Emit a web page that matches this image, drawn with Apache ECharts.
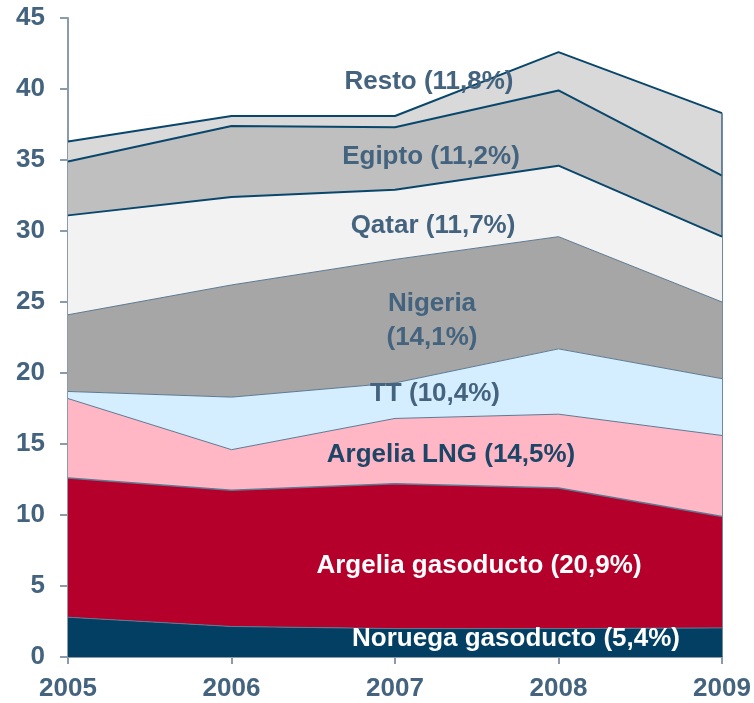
<!DOCTYPE html>
<html>
<head>
<meta charset="utf-8">
<script src="https://cdn.jsdelivr.net/npm/echarts@6/dist/echarts.min.js"></script>
<style>
html, body { margin: 0; padding: 0; background: #fff; }
#chart { width: 754px; height: 703px; }
</style>
</head>
<body>
<div id="chart"></div>
<script>
// años
var years = ['2005', '2006', '2007', '2008', '2009'];
var yTicks = { min: 0, max: 45, step: 5 };

// bcm por origen (apiladas de abajo a arriba)
var noruega    = [2.8, 2.15, 2.0, 2.0, 2.05];
var argeliaGas = [9.8, 9.6, 10.2, 9.9, 7.85];
var argeliaLng = [5.6, 2.85, 4.6, 5.2, 5.7];
var tt         = [0.5, 3.7, 2.5, 4.6, 4.0];
var nigeria    = [5.4, 7.9, 8.7, 7.9, 5.4];
var qatar      = [7.0, 6.2, 4.9, 5.0, 4.6];
var egipto     = [3.8, 5.0, 4.4, 5.3, 4.3];
var resto      = [1.4, 0.7, 0.8, 2.7, 4.4];

var textColor = '#44637e';
var navy = '#08466b';
var thinLine = '#5d7a92';
var FONT = 'Liberation Sans, Arial, sans-serif';

// total del último año, para cerrar el borde derecho
var all = [noruega, argeliaGas, argeliaLng, tt, nigeria, qatar, egipto, resto];
var last = years.length - 1;
var lastTotal = all.reduce(function (s, arr) { return s + arr[last]; }, 0);

function area(name, data, fill, lineColor, lineWidth, z) {
  return {
    name: name,
    type: 'line',
    stack: 'total',
    data: data,
    symbol: 'none',
    z: z,
    lineStyle: { color: lineColor, width: lineWidth },
    areaStyle: { color: fill, opacity: 1 }
  };
}

function label(text, cx, cy, color) {
  return {
    type: 'text',
    x: cx, y: cy,
    style: {
      text: text,
      fill: color,
      font: 'bold 26px ' + FONT,
      align: 'center',
      verticalAlign: 'middle',
      lineHeight: 34
    },
    z: 100
  };
}

var myChart = echarts.init(document.getElementById('chart'));

var series = [
  area('Noruega gasoducto', noruega, '#023f63', thinLine, 1, 10),
  area('Argelia gasoducto', argeliaGas, '#b4002a', thinLine, 1.5, 9),
  area('Argelia LNG', argeliaLng, '#ffb7c6', thinLine, 1, 8),
  area('TT', tt, '#d5eeff', thinLine, 1, 7),
  area('Nigeria', nigeria, '#a6a6a6', thinLine, 1, 6),
  area('Qatar', qatar, '#f2f2f2', navy, 2, 5),
  area('Egipto', egipto, '#bfbfbf', navy, 2, 4),
  area('Resto', resto, '#d9d9d9', navy, 2, 3)
];
// borde derecho del área
series[0].markLine = {
  symbol: 'none',
  silent: true,
  label: { show: false },
  lineStyle: { color: '#3f6482', width: 1.5, type: 'solid' },
  data: [[
    { coord: [years[last], 0] },
    { coord: [years[last], lastTotal] }
  ]]
};

var option = {
  animation: false,
  grid: { left: 68, right: 32, top: 18, bottom: 46 },
  xAxis: {
    type: 'category',
    data: years,
    boundaryGap: false,
    axisLine: { lineStyle: { color: '#8b9bab', width: 2 } },
    axisTick: { show: true, length: 7, lineStyle: { color: '#8b9bab', width: 2 } },
    axisLabel: { color: textColor, fontFamily: FONT, fontWeight: 'bold', fontSize: 26, margin: 19 }
  },
  yAxis: {
    type: 'value',
    min: yTicks.min,
    max: yTicks.max,
    interval: yTicks.step,
    axisLine: { show: true, lineStyle: { color: '#8b9bab', width: 2 } },
    axisTick: { show: true, length: 8, lineStyle: { color: '#8b9bab', width: 2 } },
    axisLabel: { color: textColor, fontFamily: FONT, fontWeight: 'bold', fontSize: 26, margin: 23 },
    splitLine: { show: false }
  },
  graphic: [
    label('Resto (11,8%)', 429, 82, textColor),
    label('Egipto (11,2%)', 431, 157, textColor),
    label('Qatar (11,7%)', 433, 226, textColor),
    label('Nigeria\n(14,1%)', 432, 321, textColor),
    label('TT (10,4%)', 435, 394, textColor),
    label('Argelia LNG (14,5%)', 451, 455, '#1c4566'),
    label('Argelia gasoducto (20,9%)', 479, 566, '#ffffff'),
    label('Noruega gasoducto (5,4%)', 516, 639, '#ffffff')
  ],
  series: series
};
myChart.setOption(option);
</script>
</body>
</html>
